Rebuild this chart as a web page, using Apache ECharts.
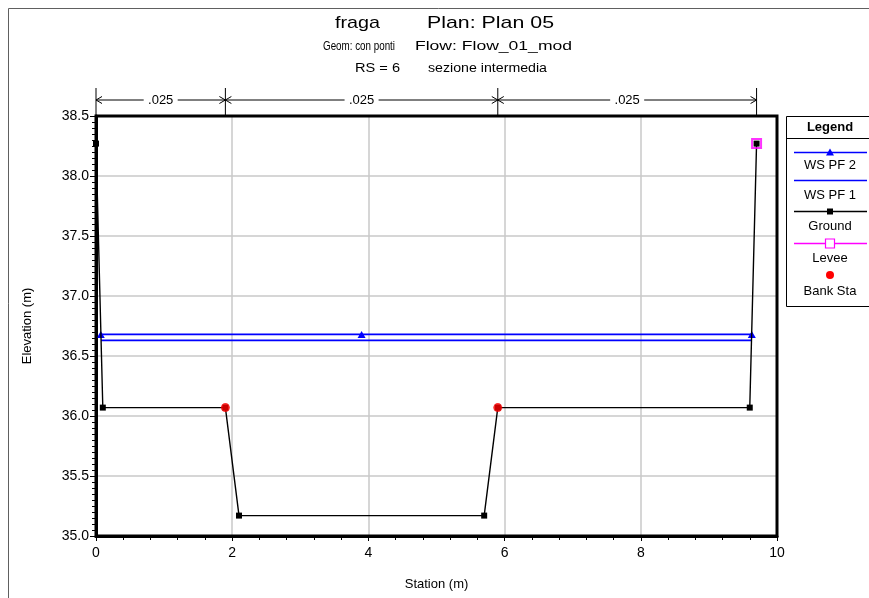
<!DOCTYPE html>
<html>
<head>
<meta charset="utf-8">
<script src="https://cdn.jsdelivr.net/npm/echarts@6/dist/echarts.min.js"></script>
<style>
  html, body { margin: 0; padding: 0; background: #fff; }
  #chart { width: 869px; height: 598px; }
</style>
</head>
<body>
<div id="chart"></div>
<script>
// Cross section geometry (station, elevation)
const groundStation = [0, 0.1, 1.9, 2.1, 5.7, 5.9, 9.6, 9.7];
const groundElev = [38.27, 36.07, 36.07, 35.17, 35.17, 36.07, 36.07, 38.27];

// Water surfaces
const wsPf2Station = [0.07, 3.9, 9.63];
const wsPf2Elev = [36.68, 36.68, 36.68];
const wsPf1Station = [0.075, 9.625];
const wsPf1Elev = [36.63, 36.63];

// Levee and bank stations
const leveeStation = [9.7];
const leveeElev = [38.27];
const bankStation = [1.9, 5.9];
const bankElev = [36.07, 36.07];

// Manning's n breaks along the section
const nBreaks = [0, 1.9, 5.9, 9.7];
const nValues = ['.025', '.025', '.025'];

// Axis ticks
const xTicks = [0, 2, 4, 6, 8, 10];
const yTicks = [35.0, 35.5, 36.0, 36.5, 37.0, 37.5, 38.0, 38.5];

// Header lines: text with its horizontal extent [left, right] and vertical centre
const headerParts = [
  { text: 'fraga', left: 335, right: 380, y: 23.5, size: 17 },
  { text: 'Plan: Plan 05', left: 427, right: 554, y: 23.5, size: 17 },
  { text: 'Geom: con ponti', left: 323, right: 395, y: 46.5, size: 12 },
  { text: 'Flow: Flow_01_mod', left: 410, right: 577, y: 46.5, size: 13 },
  { text: 'RS = 6', left: 355, right: 400, y: 69, size: 12 },
  { text: 'sezione intermedia', left: 428, right: 547, y: 69, size: 12 }
];

const FONT = '"Liberation Sans", Arial, sans-serif';
const pairs = (xs, ys) => xs.map((x, i) => [x, ys[i]]);
const measureCtx = document.createElement('canvas').getContext('2d');
function textWidth(text, font) {
  measureCtx.font = font;
  return measureCtx.measureText(text).width;
}

const chart = echarts.init(document.getElementById('chart'), null, { renderer: 'canvas' });

const option = {
  animation: false,
  backgroundColor: '#ffffff',
  grid: { left: 96, top: 116, right: 92, bottom: 62, show: false },
  xAxis: {
    type: 'value', min: xTicks[0], max: xTicks[xTicks.length - 1], interval: 2,
    name: 'Station (m)', nameLocation: 'middle', nameGap: 42,
    nameTextStyle: { fontFamily: FONT, fontSize: 13, color: '#000' },
    axisLine: { show: true, lineStyle: { color: '#000', width: 3 } },
    axisTick: { show: true, length: 5, inside: false, lineStyle: { color: '#000', width: 1 } },
    minorTick: { show: true, splitNumber: 5, length: 4, lineStyle: { color: '#000', width: 1 } },
    axisLabel: { fontFamily: FONT, fontSize: 14, color: '#000', margin: 10 },
    splitLine: { show: true, lineStyle: { color: '#c8c8c8', width: 1.5 } }
  },
  yAxis: {
    type: 'value', min: yTicks[0], max: yTicks[yTicks.length - 1], interval: 0.5,
    name: 'Elevation (m)', nameLocation: 'middle', nameGap: 62, nameRotate: 90,
    nameTextStyle: { fontFamily: FONT, fontSize: 13, color: '#000' },
    axisLine: { show: true, lineStyle: { color: '#000', width: 3 } },
    axisTick: { show: true, length: 6, lineStyle: { color: '#000', width: 1 } },
    minorTick: { show: true, splitNumber: 10, length: 4, lineStyle: { color: '#000', width: 1 } },
    axisLabel: { fontFamily: FONT, fontSize: 14, color: '#000', margin: 7,
      formatter: v => v.toFixed(1) },
    splitLine: { show: true, lineStyle: { color: '#c8c8c8', width: 1.5 } }
  },
  series: [
    {
      name: 'WS PF 1', type: 'line', data: pairs(wsPf1Station, wsPf1Elev),
      symbol: 'none', lineStyle: { color: '#0000ff', width: 1.8 }, z: 3
    },
    {
      name: 'WS PF 2', type: 'line', data: pairs(wsPf2Station, wsPf2Elev),
      symbol: 'triangle', symbolSize: [8, 7], showAllSymbol: true,
      itemStyle: { color: '#0000ff' }, lineStyle: { color: '#0000ff', width: 1.8 }, z: 4
    },
    {
      name: 'Ground', type: 'line', data: pairs(groundStation, groundElev),
      symbol: 'rect', symbolSize: 6, showAllSymbol: true,
      itemStyle: { color: '#000' }, lineStyle: { color: '#000', width: 1.4 }, z: 5
    },
    {
      name: 'Levee', type: 'scatter', data: pairs(leveeStation, leveeElev),
      symbol: 'rect', symbolSize: 9,
      itemStyle: { color: 'rgba(0,0,0,0)', borderColor: '#ff00ff', borderWidth: 2 }, z: 6
    },
    {
      name: 'Bank Sta', type: 'scatter', data: pairs(bankStation, bankElev),
      symbol: 'circle', symbolSize: 9, itemStyle: { color: '#ff0000' }, z: 7
    }
  ]
};

chart.setOption(option);

// Outer frame, plot border, header, n-value bar and legend box
function decorations() {
  const g = [];
  const txtStyle = (t, x, y, font, align) => ({
    text: t, x: x, y: y, font: font, fill: '#000',
    align: align || 'center', verticalAlign: 'middle',
    textAlign: align || 'center', textVerticalAlign: 'middle'
  });

  g.push({ type: 'polyline', silent: true, z: 100,
    shape: { points: [[8.5, 598], [8.5, 8.5], [869, 8.5]] },
    style: { stroke: '#606060', lineWidth: 1, fill: null } });

  headerParts.forEach(p => {
    const font = p.size + 'px ' + FONT;
    const w = textWidth(p.text, font);
    const s = Math.max(0.8, Math.min(1.35, (p.right - p.left) / w));
    const left = (p.left + p.right) / 2 - (w * s) / 2;
    g.push({ type: 'text', silent: true, z: 100, x: left, y: p.y, scaleX: s, scaleY: 1,
      style: txtStyle(p.text, 0, 0, font, 'left') });
  });

  const x0 = chart.convertToPixel({ xAxisIndex: 0 }, xTicks[0]);
  const x1 = chart.convertToPixel({ xAxisIndex: 0 }, xTicks[xTicks.length - 1]);
  const yTop = chart.convertToPixel({ yAxisIndex: 0 }, yTicks[yTicks.length - 1]);
  const yBot = chart.convertToPixel({ yAxisIndex: 0 }, yTicks[0]);
  g.push({ type: 'rect', silent: true, z: 100,
    shape: { x: x0, y: yTop, width: x1 - x0, height: yBot - yTop },
    style: { fill: null, stroke: '#000', lineWidth: 3 } });

  const barY = 100;
  const px = nBreaks.map(s => chart.convertToPixel({ xAxisIndex: 0 }, s));
  px.forEach(x => {
    g.push({ type: 'line', silent: true, z: 100, shape: { x1: x, y1: 88, x2: x, y2: yTop },
      style: { stroke: '#000', lineWidth: 1 } });
  });
  const arrow = (x, dir) => ({
    type: 'polyline', silent: true, z: 100,
    shape: { points: [[x + dir * 6, barY - 3.5], [x, barY], [x + dir * 6, barY + 3.5]] },
    style: { stroke: '#000', lineWidth: 1, fill: null }
  });
  for (let i = 0; i < nValues.length; i++) {
    const a = px[i], b = px[i + 1], mid = (a + b) / 2, half = 17;
    g.push({ type: 'line', silent: true, z: 100, shape: { x1: a, y1: barY, x2: mid - half, y2: barY },
      style: { stroke: '#000', lineWidth: 1 } });
    g.push({ type: 'line', silent: true, z: 100, shape: { x1: mid + half, y1: barY, x2: b, y2: barY },
      style: { stroke: '#000', lineWidth: 1 } });
    g.push(arrow(a, 1));
    g.push(arrow(b, -1));
    g.push({ type: 'text', silent: true, z: 100,
      style: txtStyle(nValues[i], mid, barY, '13px ' + FONT) });
  }

  // Legend
  const L = 786.5, R = 875, cx = 830, top = 116.5, bottom = 306.5;
  g.push({ type: 'rect', silent: true, z: 100, shape: { x: L, y: top, width: R - L, height: bottom - top },
    style: { fill: '#fff', stroke: '#000', lineWidth: 1 } });
  g.push({ type: 'line', silent: true, z: 101, shape: { x1: L, y1: 138.5, x2: R, y2: 138.5 },
    style: { stroke: '#000', lineWidth: 1 } });
  const txt = (t, y, bold) => ({ type: 'text', silent: true, z: 101,
    style: txtStyle(t, cx, y, (bold ? 'bold ' : '') + '13px ' + FONT) });
  const sample = (y, color) => ({ type: 'line', silent: true, z: 101,
    shape: { x1: 794, y1: y, x2: 867, y2: y }, style: { stroke: color, lineWidth: 1.5 } });
  g.push(txt('Legend', 127.5, true));
  g.push(sample(152.5, '#0000ff'));
  g.push({ type: 'polygon', silent: true, z: 102, shape: { points: [[cx - 4, 155.5], [cx + 4, 155.5], [cx, 148.5]] },
    style: { fill: '#0000ff' } });
  g.push(txt('WS PF 2', 165, false));
  g.push(sample(180.5, '#0000ff'));
  g.push(txt('WS PF 1', 195, false));
  g.push(sample(211.5, '#000'));
  g.push({ type: 'rect', silent: true, z: 102, shape: { x: cx - 3, y: 208.5, width: 6, height: 6 }, style: { fill: '#000' } });
  g.push(txt('Ground', 226, false));
  g.push(sample(243.5, '#ff00ff'));
  g.push({ type: 'rect', silent: true, z: 102, shape: { x: cx - 4.5, y: 239, width: 9, height: 9 },
    style: { fill: '#fff', stroke: '#ff00ff', lineWidth: 1.2 } });
  g.push(txt('Levee', 258, false));
  g.push({ type: 'circle', silent: true, z: 102, shape: { cx: cx, cy: 275, r: 4 }, style: { fill: '#ff0000' } });
  g.push(txt('Bank Sta', 291, false));

  chart.setOption({ graphic: g });
}
decorations();
</script>
</body>
</html>
